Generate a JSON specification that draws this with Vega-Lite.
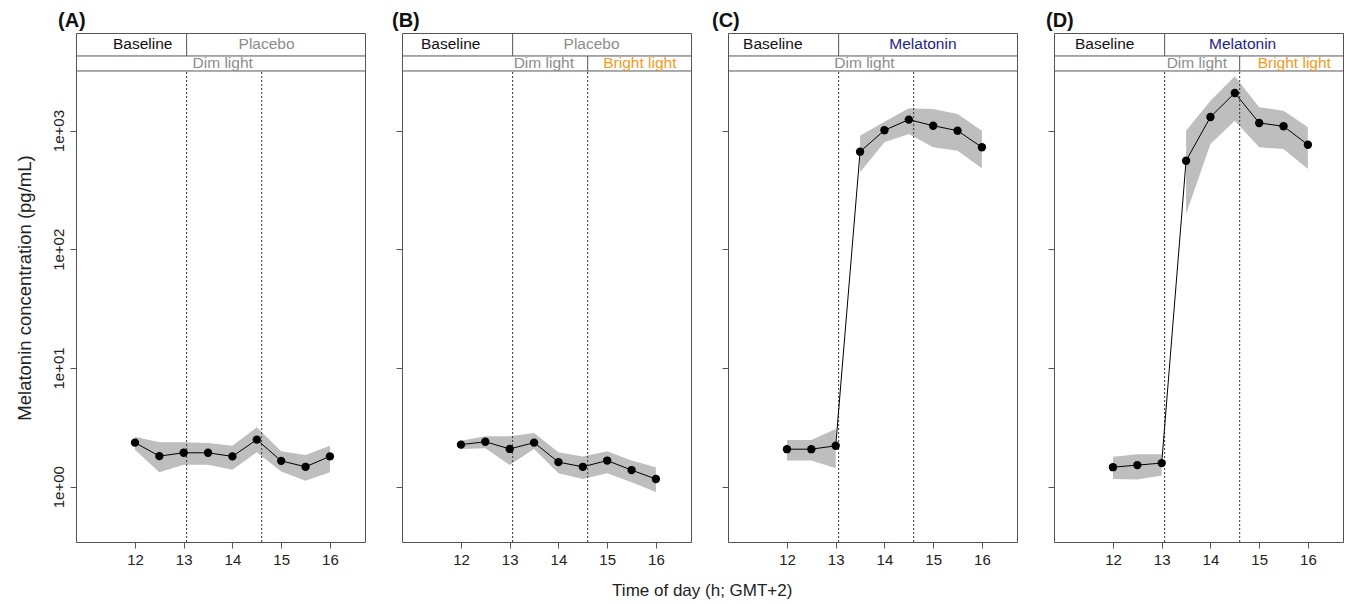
{
"$schema": "https://vega.github.io/schema/vega-lite/v6.json",
"autosize": {"type": "pad"},
"padding": {"left": 14, "top": 10, "right": 2, "bottom": 2},
"bounds": "flush",
"title": {"text": "Time of day (h; GMT+2)", "orient": "bottom", "anchor": "middle", "fontSize": 17, "fontWeight": "normal", "offset": 15, "dx": 23, "color": "#222"},
"spacing": 37,
"datasets": {
"points": [
{"panel":"A","g":1,"t":12,"v":2.35,"lo":2.05,"hi":2.64},
{"panel":"A","g":1,"t":12.5,"v":1.81,"lo":1.32,"hi":2.37},
{"panel":"A","g":1,"t":13,"v":1.93,"lo":1.53,"hi":2.37},
{"panel":"A","g":1,"t":13.5,"v":1.93,"lo":1.53,"hi":2.33},
{"panel":"A","g":1,"t":14,"v":1.80,"lo":1.39,"hi":2.21},
{"panel":"A","g":1,"t":14.5,"v":2.49,"lo":1.95,"hi":3.16},
{"panel":"A","g":1,"t":15,"v":1.65,"lo":1.34,"hi":1.99},
{"panel":"A","g":1,"t":15.5,"v":1.47,"lo":1.12,"hi":1.85},
{"panel":"A","g":1,"t":16,"v":1.80,"lo":1.32,"hi":2.21},
{"panel":"B","g":1,"t":12,"v":2.26,"lo":2.08,"hi":2.44},
{"panel":"B","g":1,"t":12.5,"v":2.39,"lo":2.11,"hi":2.66},
{"panel":"B","g":1,"t":13,"v":2.08,"lo":1.52,"hi":2.66},
{"panel":"B","g":1,"t":13.5,"v":2.35,"lo":2.08,"hi":2.83},
{"panel":"B","g":1,"t":14,"v":1.61,"lo":1.30,"hi":1.95},
{"panel":"B","g":1,"t":14.5,"v":1.47,"lo":1.16,"hi":1.80},
{"panel":"B","g":1,"t":15,"v":1.66,"lo":1.30,"hi":1.99},
{"panel":"B","g":1,"t":15.5,"v":1.38,"lo":1.09,"hi":1.66},
{"panel":"B","g":1,"t":16,"v":1.16,"lo":0.90,"hi":1.46},
{"panel":"C","g":1,"t":12,"v":2.07,"lo":1.66,"hi":2.47},
{"panel":"C","g":1,"t":12.5,"v":2.07,"lo":1.66,"hi":2.47},
{"panel":"C","g":1,"t":13,"v":2.21,"lo":1.43,"hi":3.06},
{"panel":"C","g":2,"t":13.5,"v":664,"lo":445,"hi":906},
{"panel":"C","g":2,"t":14,"v":1006,"lo":797,"hi":1188},
{"panel":"C","g":2,"t":14.5,"v":1236,"lo":936,"hi":1542},
{"panel":"C","g":2,"t":15,"v":1099,"lo":723,"hi":1520},
{"panel":"C","g":2,"t":15.5,"v":998,"lo":677,"hi":1380},
{"panel":"C","g":2,"t":16,"v":723,"lo":481,"hi":998},
{"panel":"D","g":1,"t":12,"v":1.46,"lo":1.16,"hi":1.79},
{"panel":"D","g":1,"t":12.5,"v":1.52,"lo":1.15,"hi":1.88},
{"panel":"D","g":1,"t":13,"v":1.58,"lo":1.24,"hi":1.88},
{"panel":"D","g":2,"t":13.5,"v":557,"lo":198,"hi":998},
{"panel":"D","g":2,"t":14,"v":1302,"lo":771,"hi":1786},
{"panel":"D","g":2,"t":14.5,"v":2074,"lo":1211,"hi":2866},
{"panel":"D","g":2,"t":15,"v":1159,"lo":723,"hi":1571},
{"panel":"D","g":2,"t":15.5,"v":1087,"lo":700,"hi":1472},
{"panel":"D","g":2,"t":16,"v":760,"lo":475,"hi":1067}
],
"strip_text": [
{"panel":"A","t":12.16,"v":5311,"label":"Baseline"},
{"panel":"A","t":14.7,"v":5311,"label":"Placebo"},
{"panel":"A","t":13.8,"v":3675,"label":"Dim light"},
{"panel":"B","t":11.79,"v":5311,"label":"Baseline"},
{"panel":"B","t":14.68,"v":5311,"label":"Placebo"},
{"panel":"B","t":13.7,"v":3675,"label":"Dim light"},
{"panel":"B","t":15.67,"v":3675,"label":"Bright light"},
{"panel":"C","t":11.71,"v":5311,"label":"Baseline"},
{"panel":"C","t":14.79,"v":5311,"label":"Melatonin"},
{"panel":"C","t":13.59,"v":3675,"label":"Dim light"},
{"panel":"D","t":11.83,"v":5311,"label":"Baseline"},
{"panel":"D","t":14.66,"v":5311,"label":"Melatonin"},
{"panel":"D","t":13.72,"v":3675,"label":"Dim light"},
{"panel":"D","t":15.72,"v":3675,"label":"Bright light"}
],
"rules": [
{"panel":"A","kind":"strip","t":10.79,"t2":16.72,"v":4251,"v2":4251},
{"panel":"A","kind":"strip","t":10.79,"t2":16.72,"v":3177,"v2":3177},
{"panel":"A","kind":"strip","t":13.06,"t2":13.06,"v":4251,"v2":6637},
{"panel":"A","kind":"phase","t":13.06,"t2":13.06,"v":0.342,"v2":3177},
{"panel":"A","kind":"phase","t":14.6,"t2":14.6,"v":0.342,"v2":3177},
{"panel":"B","kind":"strip","t":10.79,"t2":16.72,"v":4251,"v2":4251},
{"panel":"B","kind":"strip","t":10.79,"t2":16.72,"v":3177,"v2":3177},
{"panel":"B","kind":"strip","t":13.06,"t2":13.06,"v":4251,"v2":6637},
{"panel":"B","kind":"strip","t":14.6,"t2":14.6,"v":3177,"v2":4251},
{"panel":"B","kind":"phase","t":13.06,"t2":13.06,"v":0.342,"v2":3177},
{"panel":"B","kind":"phase","t":14.6,"t2":14.6,"v":0.342,"v2":3177},
{"panel":"C","kind":"strip","t":10.79,"t2":16.72,"v":4251,"v2":4251},
{"panel":"C","kind":"strip","t":10.79,"t2":16.72,"v":3177,"v2":3177},
{"panel":"C","kind":"strip","t":13.06,"t2":13.06,"v":4251,"v2":6637},
{"panel":"C","kind":"phase","t":13.06,"t2":13.06,"v":0.342,"v2":3177},
{"panel":"C","kind":"phase","t":14.6,"t2":14.6,"v":0.342,"v2":3177},
{"panel":"D","kind":"strip","t":10.79,"t2":16.72,"v":4251,"v2":4251},
{"panel":"D","kind":"strip","t":10.79,"t2":16.72,"v":3177,"v2":3177},
{"panel":"D","kind":"strip","t":13.06,"t2":13.06,"v":4251,"v2":6637},
{"panel":"D","kind":"strip","t":14.6,"t2":14.6,"v":3177,"v2":4251},
{"panel":"D","kind":"phase","t":13.06,"t2":13.06,"v":0.342,"v2":3177},
{"panel":"D","kind":"phase","t":14.6,"t2":14.6,"v":0.342,"v2":3177}
]
},
"hconcat": [
{
"title": {"text": "(A)", "anchor": "start", "frame": "group", "dx": -18},
"width": 289, "height": 509,
"encoding": {
"x": {"field": "t", "type": "quantitative", "scale": {"domain": [10.79, 16.72], "nice": false, "zero": false}, "axis": {"values": [12,13,14,15,16], "title": null}},
"y": {"field": "v", "type": "quantitative", "scale": {"type": "log", "domain": [0.342, 6637], "nice": false}, "axis": {"values": [1,10,100,1000], "labelExpr": "'1e+0' + round(log(datum.value)/LN10)", "labelAngle": -90, "labelAlign": "center", "labelBaseline": "bottom", "title": "Melatonin concentration (pg/mL)", "titlePadding": 17, "titleFontSize": 18.5}}
},
"layer": [
{"data": {"name": "points"}, "transform": [{"filter": "datum.panel == 'A'"}], "mark": {"type": "area", "color": "#bebebe", "opacity": 1},
 "encoding": {"y": {"field": "lo", "type": "quantitative", "scale": {"type": "log", "domain": [0.342, 6637], "nice": false}, "axis": {"values": [1,10,100,1000], "labelExpr": "'1e+0' + round(log(datum.value)/LN10)", "labelAngle": -90, "labelAlign": "center", "labelBaseline": "bottom", "title": "Melatonin concentration (pg/mL)", "titlePadding": 17, "titleFontSize": 18.5}}, "y2": {"field": "hi"}, "detail": {"field": "g"}}},
{"data": {"name": "rules"}, "transform": [{"filter": "datum.panel == 'A' && datum.kind == 'phase'"}], "mark": {"type": "rule", "color": "#333", "strokeWidth": 1, "strokeDash": [2, 2]}, "encoding": {"x2": {"field": "t2"}, "y2": {"field": "v2"}}},
{"data": {"name": "rules"}, "transform": [{"filter": "datum.panel == 'A' && datum.kind == 'strip'"}], "mark": {"type": "rule", "color": "#555", "strokeWidth": 1}, "encoding": {"x2": {"field": "t2"}, "y2": {"field": "v2"}}},
{"data": {"name": "points"}, "transform": [{"filter": "datum.panel == 'A'"}], "mark": {"type": "line", "color": "#000", "strokeWidth": 1}, "encoding": {}},
{"data": {"name": "points"}, "transform": [{"filter": "datum.panel == 'A'"}], "mark": {"type": "circle", "color": "#000", "opacity": 1, "size": 70}, "encoding": {}},
{"data": {"name": "strip_text"}, "transform": [{"filter": "datum.panel == 'A'"}], "mark": {"type": "text", "fontSize": 15.5, "baseline": "middle", "align": "center"},
 "encoding": {"text": {"field": "label"}, "color": {"field": "label", "type": "nominal", "scale": {"domain": ["Baseline","Placebo","Melatonin","Dim light","Bright light"], "range": ["#111111","#8c8c8c","#23238c","#8c8c8c","#f39a1e"]}, "legend": null}}}
]
},
{
"title": {"text": "(B)", "anchor": "start", "frame": "group", "dx": -10},
"width": 289, "height": 509,
"encoding": {
"x": {"field": "t", "type": "quantitative", "scale": {"domain": [10.79, 16.72], "nice": false, "zero": false}, "axis": {"values": [12,13,14,15,16], "title": null}},
"y": {"field": "v", "type": "quantitative", "scale": {"type": "log", "domain": [0.342, 6637], "nice": false}, "axis": {"values": [1,10,100,1000], "labels": false, "title": null}}
},
"layer": [
{"data": {"name": "points"}, "transform": [{"filter": "datum.panel == 'B'"}], "mark": {"type": "area", "color": "#bebebe", "opacity": 1},
 "encoding": {"y": {"field": "lo", "type": "quantitative", "scale": {"type": "log", "domain": [0.342, 6637], "nice": false}, "axis": {"values": [1,10,100,1000], "labels": false, "title": null}}, "y2": {"field": "hi"}, "detail": {"field": "g"}}},
{"data": {"name": "rules"}, "transform": [{"filter": "datum.panel == 'B' && datum.kind == 'phase'"}], "mark": {"type": "rule", "color": "#333", "strokeWidth": 1, "strokeDash": [2, 2]}, "encoding": {"x2": {"field": "t2"}, "y2": {"field": "v2"}}},
{"data": {"name": "rules"}, "transform": [{"filter": "datum.panel == 'B' && datum.kind == 'strip'"}], "mark": {"type": "rule", "color": "#555", "strokeWidth": 1}, "encoding": {"x2": {"field": "t2"}, "y2": {"field": "v2"}}},
{"data": {"name": "points"}, "transform": [{"filter": "datum.panel == 'B'"}], "mark": {"type": "line", "color": "#000", "strokeWidth": 1}, "encoding": {}},
{"data": {"name": "points"}, "transform": [{"filter": "datum.panel == 'B'"}], "mark": {"type": "circle", "color": "#000", "opacity": 1, "size": 70}, "encoding": {}},
{"data": {"name": "strip_text"}, "transform": [{"filter": "datum.panel == 'B'"}], "mark": {"type": "text", "fontSize": 15.5, "baseline": "middle", "align": "center"},
 "encoding": {"text": {"field": "label"}, "color": {"field": "label", "type": "nominal", "scale": {"domain": ["Baseline","Placebo","Melatonin","Dim light","Bright light"], "range": ["#111111","#8c8c8c","#23238c","#8c8c8c","#f39a1e"]}, "legend": null}}}
]
},
{
"title": {"text": "(C)", "anchor": "start", "frame": "group", "dx": -16},
"width": 289, "height": 509,
"encoding": {
"x": {"field": "t", "type": "quantitative", "scale": {"domain": [10.79, 16.72], "nice": false, "zero": false}, "axis": {"values": [12,13,14,15,16], "title": null}},
"y": {"field": "v", "type": "quantitative", "scale": {"type": "log", "domain": [0.342, 6637], "nice": false}, "axis": {"values": [1,10,100,1000], "labels": false, "title": null}}
},
"layer": [
{"data": {"name": "points"}, "transform": [{"filter": "datum.panel == 'C'"}], "mark": {"type": "area", "color": "#bebebe", "opacity": 1},
 "encoding": {"y": {"field": "lo", "type": "quantitative", "scale": {"type": "log", "domain": [0.342, 6637], "nice": false}, "axis": {"values": [1,10,100,1000], "labels": false, "title": null}}, "y2": {"field": "hi"}, "detail": {"field": "g"}}},
{"data": {"name": "rules"}, "transform": [{"filter": "datum.panel == 'C' && datum.kind == 'phase'"}], "mark": {"type": "rule", "color": "#333", "strokeWidth": 1, "strokeDash": [2, 2]}, "encoding": {"x2": {"field": "t2"}, "y2": {"field": "v2"}}},
{"data": {"name": "rules"}, "transform": [{"filter": "datum.panel == 'C' && datum.kind == 'strip'"}], "mark": {"type": "rule", "color": "#555", "strokeWidth": 1}, "encoding": {"x2": {"field": "t2"}, "y2": {"field": "v2"}}},
{"data": {"name": "points"}, "transform": [{"filter": "datum.panel == 'C'"}], "mark": {"type": "line", "color": "#000", "strokeWidth": 1}, "encoding": {}},
{"data": {"name": "points"}, "transform": [{"filter": "datum.panel == 'C'"}], "mark": {"type": "circle", "color": "#000", "opacity": 1, "size": 70}, "encoding": {}},
{"data": {"name": "strip_text"}, "transform": [{"filter": "datum.panel == 'C'"}], "mark": {"type": "text", "fontSize": 15.5, "baseline": "middle", "align": "center"},
 "encoding": {"text": {"field": "label"}, "color": {"field": "label", "type": "nominal", "scale": {"domain": ["Baseline","Placebo","Melatonin","Dim light","Bright light"], "range": ["#111111","#8c8c8c","#23238c","#8c8c8c","#f39a1e"]}, "legend": null}}}
]
},
{
"title": {"text": "(D)", "anchor": "start", "frame": "group", "dx": -8},
"width": 289, "height": 509,
"encoding": {
"x": {"field": "t", "type": "quantitative", "scale": {"domain": [10.79, 16.72], "nice": false, "zero": false}, "axis": {"values": [12,13,14,15,16], "title": null}},
"y": {"field": "v", "type": "quantitative", "scale": {"type": "log", "domain": [0.342, 6637], "nice": false}, "axis": {"values": [1,10,100,1000], "labels": false, "title": null}}
},
"layer": [
{"data": {"name": "points"}, "transform": [{"filter": "datum.panel == 'D'"}], "mark": {"type": "area", "color": "#bebebe", "opacity": 1},
 "encoding": {"y": {"field": "lo", "type": "quantitative", "scale": {"type": "log", "domain": [0.342, 6637], "nice": false}, "axis": {"values": [1,10,100,1000], "labels": false, "title": null}}, "y2": {"field": "hi"}, "detail": {"field": "g"}}},
{"data": {"name": "rules"}, "transform": [{"filter": "datum.panel == 'D' && datum.kind == 'phase'"}], "mark": {"type": "rule", "color": "#333", "strokeWidth": 1, "strokeDash": [2, 2]}, "encoding": {"x2": {"field": "t2"}, "y2": {"field": "v2"}}},
{"data": {"name": "rules"}, "transform": [{"filter": "datum.panel == 'D' && datum.kind == 'strip'"}], "mark": {"type": "rule", "color": "#555", "strokeWidth": 1}, "encoding": {"x2": {"field": "t2"}, "y2": {"field": "v2"}}},
{"data": {"name": "points"}, "transform": [{"filter": "datum.panel == 'D'"}], "mark": {"type": "line", "color": "#000", "strokeWidth": 1}, "encoding": {}},
{"data": {"name": "points"}, "transform": [{"filter": "datum.panel == 'D'"}], "mark": {"type": "circle", "color": "#000", "opacity": 1, "size": 70}, "encoding": {}},
{"data": {"name": "strip_text"}, "transform": [{"filter": "datum.panel == 'D'"}], "mark": {"type": "text", "fontSize": 15.5, "baseline": "middle", "align": "center"},
 "encoding": {"text": {"field": "label"}, "color": {"field": "label", "type": "nominal", "scale": {"domain": ["Baseline","Placebo","Melatonin","Dim light","Bright light"], "range": ["#111111","#8c8c8c","#23238c","#8c8c8c","#f39a1e"]}, "legend": null}}}
]
}
],
"config": {
"font": "Liberation Sans",
"background": "white",
"view": {"stroke": "#555", "strokeWidth": 1},
"axis": {"grid": false, "domain": false, "tickColor": "#555", "tickSize": 6, "labelColor": "#222", "labelFontSize": 15, "labelPadding": 4, "titleColor": "#222", "titleFontSize": 17, "titleFontWeight": "normal"},
"axisX": {"labelAngle": 0},
"title": {"fontSize": 20, "fontWeight": "bold", "color": "#111", "offset": 2}
}
}
